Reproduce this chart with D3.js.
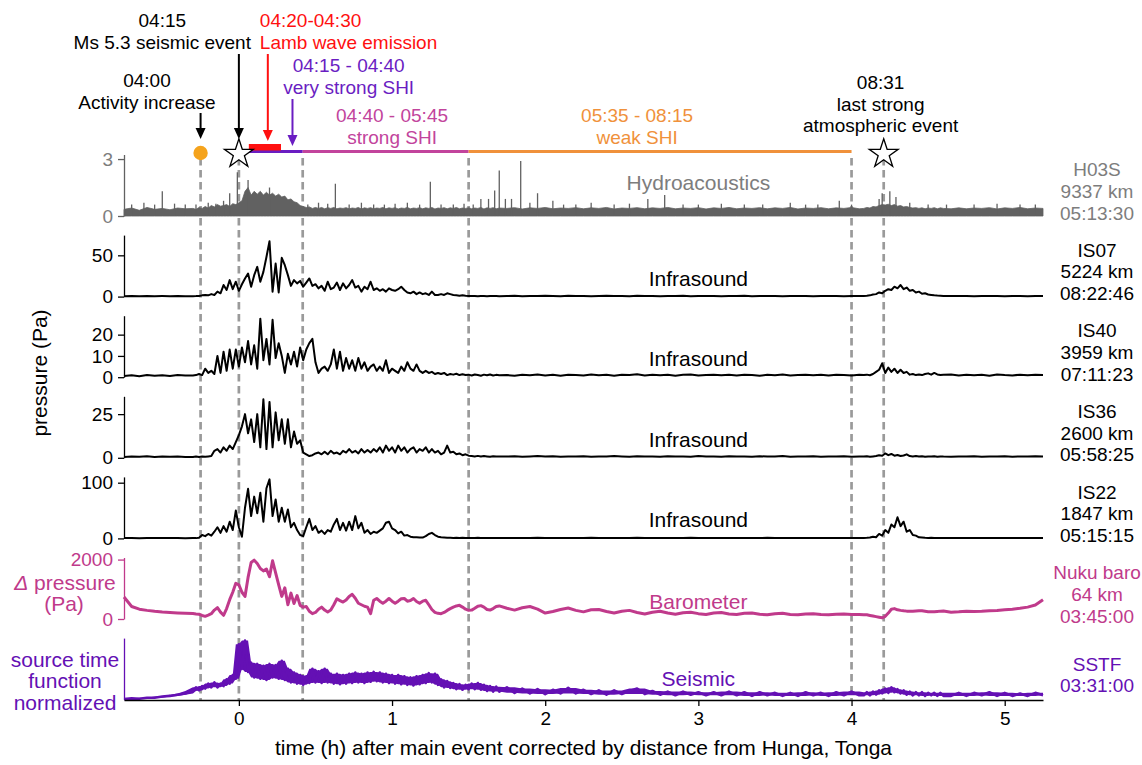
<!DOCTYPE html>
<html><head><meta charset="utf-8">
<script src="https://cdn.jsdelivr.net/npm/d3@7"></script>
<style>
body{margin:0;background:#fff}
text{font-family:"Liberation Sans",Arial,Helvetica,sans-serif}
</style>
</head><body>
<svg id="chart" width="1142" height="765"></svg>
<script>
// ---------------- DATA ----------------
const xDomain = [-0.75, 5.25];
const xTicks = [0, 1, 2, 3, 4, 5];
const xTitle = "time (h) after main event corrected by distance from Hunga, Tonga";

// sampling times (hours): coarse outside, fine during main activity and the 08:31 event
const tA = d3.range(9).map(i => +(-0.75 + 0.05 * i).toFixed(3));   // -0.75 .. -0.35
const tB = d3.range(101).map(i => +(-0.30 + 0.02 * i).toFixed(3)); // -0.30 .. 1.70
const tC = d3.range(47).map(i => +(1.75 + 0.05 * i).toFixed(3));   // 1.75 .. 4.05
const tD = d3.range(27).map(i => +(4.08 + 0.02 * i).toFixed(3));   // 4.08 .. 4.60
const tE = d3.range(13).map(i => +(4.65 + 0.05 * i).toFixed(3));   // 4.65 .. 5.25
const times = tA.concat(tB, tC, tD, tE);

const hydroValues = [
  0.35,0.42,0.3,0.45,0.35,0.4,0.33,0.42,0.38,
  0.4,0.35,0.45,0.4,0.5,0.42,0.55,0.48,0.6,0.52,
  0.55,0.6,0.5,0.65,0.6,0.7,0.8,1.3,1.5,1.1,
  1.3,1.15,1.3,1.1,1.25,1.1,1.2,1.05,1.15,1.0,
  1.05,0.85,0.9,0.75,0.7,0.55,0.5,0.45,0.48,0.4,
  0.45,0.4,0.45,0.38,0.44,0.4,0.45,0.38,0.42,0.4,
  0.44,0.38,0.42,0.4,0.45,0.37,0.43,0.4,0.44,0.38,
  0.42,0.4,0.45,0.38,0.43,0.4,0.44,0.37,0.42,0.4,
  0.45,0.38,0.42,0.4,0.44,0.38,0.43,0.4,0.45,0.37,
  0.42,0.4,0.44,0.38,0.43,0.4,0.45,0.38,0.42,0.4,
  0.44,0.38,0.42,0.4,0.45,0.37,0.43,0.4,0.44,0.38,
  0.42,
  0.4,0.44,0.37,0.43,0.4,0.45,0.38,0.42,0.4,0.44,
  0.38,0.43,0.4,0.45,0.37,0.42,0.4,0.44,0.38,0.43,
  0.4,0.45,0.38,0.42,0.4,0.44,0.37,0.43,0.4,0.45,
  0.38,0.42,0.4,0.44,0.38,0.43,0.4,0.45,0.37,0.42,
  0.4,0.44,0.38,0.43,0.4,0.45,0.38,
  0.4,0.45,0.42,0.5,0.48,0.55,0.6,0.58,0.62,0.55,
  0.6,0.52,0.55,0.48,0.5,0.45,0.42,0.44,0.4,0.43,
  0.38,0.42,0.4,0.44,0.38,0.43,0.4,
  0.38,0.43,0.38,0.42,0.4,0.44,0.37,0.43,0.4,0.45,0.38,0.42,0.4
];
const hydroSpikeTimes = [-0.7,-0.62,-0.55,-0.5,-0.42,-0.35,-0.28,-0.2,-0.15,-0.1,-0.06,-0.01,0.06,0.2,0.45,0.52,0.58,0.63,0.72,0.8,0.88,0.95,1.02,1.1,1.18,1.25,1.32,1.4,1.47,1.53,1.58,1.63,1.67,1.70,1.74,1.78,1.84,1.9,1.95,2.05,2.12,2.2,2.3,2.45,2.55,2.67,2.78,2.9,3.0,3.15,3.3,3.42,3.6,3.7,3.78,3.92,4.0,4.18,4.2,4.25,4.29,4.38,4.5,4.62,4.8,4.95,5.1,5.2];
const hydroSpikeValues = [0.6,0.7,0.6,1.3,0.65,0.6,0.6,0.7,0.65,0.8,1.2,2.3,1.9,1.5,0.6,0.7,0.65,1.7,0.6,0.7,0.6,0.6,0.65,0.7,0.6,1.8,0.6,0.6,0.65,0.6,0.9,0.9,1.35,2.4,0.9,0.9,2.9,0.7,1.2,0.8,0.6,0.6,0.7,0.6,0.65,0.9,1.1,0.6,0.6,0.65,0.6,0.6,0.7,0.6,0.6,0.8,0.6,0.9,1.2,1.3,1.0,0.7,0.6,0.6,0.6,0.65,0.6,0.6];

const is07Values = [
  0.5,0.6,0.4,0.7,0.5,0.6,0.5,0.7,0.5,
  0.5,0.6,0.8,1.5,2,1.5,3,2,6,4,
  14,8,20,9,18,7,15,22,28,12,
  26,36,18,30,48,67,6,40,5,47,
  38,26,13,20,16,19,12,17,22,13,
  15,10,13,7,18,9,11,17,8,16,
  10,14,20,11,13,6,12,9,18,8,
  10,7,9,6,10,8,7,9,12,8,
  5,4,6,3,5,3,4,2,6,2,
  2,3,2,4,3,2,1.5,1,1.5,1,
  0.8,0.6,0.8,0.5,0.7,0.6,0.5,0.8,0.6,0.7,
  0.5,
  0.6,0.9,0.5,0.8,0.6,1,0.7,0.5,0.9,0.6,
  0.8,0.5,0.7,1,0.6,0.8,0.5,0.9,0.6,0.7,
  0.5,0.8,0.6,0.9,0.5,0.7,0.6,0.8,0.5,0.7,
  0.6,0.9,0.5,0.7,0.6,0.8,0.5,0.7,0.6,0.8,
  0.5,0.7,0.6,0.8,0.5,0.7,0.6,
  0.8,1,1.5,2.5,3,5,4,7,9,8,
  12,10,14,9,11,7,8,5,6,3.5,
  4,2.5,2,1.5,1.2,1,0.8,
  0.8,0.6,0.7,0.5,0.8,0.6,0.7,0.5,0.6,0.8,0.5,0.7,0.6
];

const is40Values = [
  0.6,0.9,0.5,1,0.7,0.9,0.6,1,0.8,
  0.8,1,1.5,1,4,2,3,1.5,10,2,
  12,3,13,4,13,5,14,7,17,6,
  15,4,27.5,8,18,6,27,9,16,10,
  2,11,6,12,5,14,8,13,16,18,
  7,2,4,5,3,6,13,4,12,3,
  9,4,8,3,9,4,7,3,5,6,
  3,5,3,8,2,4,3,2,5,3,
  7,4,3,6,3,2,3,2,2.5,1.5,
  2,1.5,2,1,1.5,1.2,1.6,1,1.4,1,
  1.2,0.8,1.3,1,0.7,1.2,0.9,1.3,0.8,1.1,
  0.9,
  1,0.7,1.2,0.9,1.3,0.8,1.1,0.7,1.2,1,
  0.8,1.3,0.9,1.1,0.7,1.2,1,1.4,0.8,1.1,
  0.9,1.2,0.7,1.1,1.3,0.8,1,1.2,0.9,1.1,
  0.8,1.2,1,0.7,1.1,0.9,1.3,0.8,1,1.2,
  0.9,1.1,0.8,1.2,1,0.8,1.1,
  1,1.2,0.9,1.5,2.5,3.5,6.5,2,4.5,2.5,
  4,2,3.5,2,2.5,1.2,1.5,1,1.3,1,
  1.5,1.8,1.2,2,1.3,1,1.2,
  1.3,0.8,1.2,0.9,1.1,0.7,1.3,1,0.8,1.2,0.9,1.1,1
];

const is36Values = [
  0.5,0.8,0.6,0.9,0.5,0.7,0.6,0.8,0.5,
  0.5,0.8,0.5,0.7,0.6,0.8,1,4,5,3,
  6,4,7,5,9,13,18,25,14,22,
  9,25,6,33.5,5,32,6,26,10,22,
  8,22,6,15,8,10,3,2,1,1.5,
  2.5,3,2,3.5,2,4,2.5,3,2,4,
  3,5,3,4,2.5,5,3,4.5,3,5,
  3.5,6,3,7,4,6,3,7,4,6,
  3,5,6,3,5,4,6,3,5,3,
  4,2,3,7,3,3.5,2,2.5,1.5,2,
  1.2,1,0.8,1.1,0.7,1,0.8,0.6,0.9,0.7,
  0.8,
  0.7,0.9,0.6,0.8,1,0.7,0.9,0.6,0.8,0.7,
  0.9,0.6,0.8,0.7,1,0.8,0.6,0.9,0.7,0.8,
  0.6,0.9,0.7,0.8,0.6,1,0.7,0.8,0.6,0.9,
  0.7,0.8,0.6,0.9,0.7,0.8,1,0.6,0.8,0.7,
  0.9,0.6,0.8,0.7,0.9,0.6,0.8,
  0.7,0.9,0.6,0.8,1,1.5,1.2,2.5,1.5,2.2,
  1.2,1.6,1,1.3,2,1,0.8,1,0.7,0.9,
  0.6,0.8,0.7,0.9,0.6,0.8,0.7,
  0.6,0.8,0.7,0.9,0.6,0.8,0.7,0.9,0.6,0.8,0.7,0.9,0.7
];

const is22Values = [
  0.5,0.7,0.4,0.6,0.5,0.8,0.5,0.6,0.4,
  0.5,0.5,1,6,4,8,5,12,20,10,
  22,12,30,15,50,20,3,55,89,40,
  75,45,82,30,90,106,40,70,30,55,
  30,52,20,28,15,6,4,20,35,15,
  22,10,14,8,15,12,25,35,15,28,
  14,30,15,40,18,28,10,15,8,12,
  10,14,18,28,30,18,15,9,12,5,
  6,3,2,2,1.5,1.5,4,8,10,6,
  3,2,1.5,1,1.2,0.8,1,0.7,1,0.8,
  0.6,0.9,0.7,1,0.6,0.8,0.7,0.9,0.6,0.8,
  0.7,
  0.8,0.6,0.9,0.7,1,0.6,0.8,0.7,0.9,0.6,
  0.8,1,0.7,0.9,0.6,0.8,0.7,1,0.6,0.8,
  0.7,0.9,0.6,0.8,1,0.7,0.9,0.6,0.8,0.7,
  0.9,0.6,0.8,0.7,1,0.6,0.8,0.9,0.7,0.8,
  0.6,0.9,0.7,0.8,0.6,0.9,0.7,
  0.8,1,1.5,3,2,8,5,15,10,25,
  20,38,22,30,12,15,6,5,2,1.5,
  1,0.8,1,0.7,0.9,0.6,0.8,
  0.9,0.7,0.8,0.6,0.9,0.7,0.8,0.6,0.9,0.7,0.8,0.6,0.7
];

const baroValues = [
  740,420,330,290,260,236,220,205,195,
  185,170,160,120,90,130,180,300,380,230,
  125,350,650,900,1200,1150,900,760,1400,1900,
  1980,1870,1700,1620,1680,1420,1960,1550,1150,760,
  1050,480,870,520,790,460,400,420,260,180,
  220,330,400,300,236,300,480,680,620,570,
  640,760,830,700,530,480,430,400,180,630,
  690,600,530,600,690,600,530,600,680,690,
  600,620,690,590,530,600,630,480,320,224,
  190,180,220,290,348,400,440,460,400,330,
  293,300,360,430,450,400,320,300,350,420,
  440,
  360,300,380,420,330,200,250,320,370,290,
  240,310,320,250,200,260,290,220,170,230,
  260,200,160,210,230,180,150,200,220,170,
  150,190,200,160,140,180,190,150,140,170,
  180,150,140,160,170,150,150,
  140,140,120,100,80,60,40,90,200,330,
  350,310,290,275,265,260,260,270,280,275,
  260,245,240,245,255,265,270,
  230,240,260,250,260,280,290,310,330,360,400,470,650
];

const seismicValues = [
  0.01,0.02,0.015,0.03,0.03,0.05,0.06,0.08,0.1,
  0.14,0.2,0.15,0.22,0.18,0.26,0.2,0.28,0.2,0.26,
  0.22,0.33,0.26,0.4,0.34,0.9,0.5,0.96,0.45,0.6,
  0.36,0.58,0.34,0.55,0.32,0.58,0.36,0.56,0.34,0.63,
  0.32,0.5,0.28,0.44,0.26,0.4,0.24,0.38,0.27,0.5,
  0.28,0.46,0.27,0.5,0.28,0.42,0.26,0.42,0.25,0.4,
  0.26,0.42,0.27,0.44,0.28,0.42,0.27,0.44,0.29,0.45,
  0.3,0.44,0.28,0.42,0.27,0.4,0.26,0.4,0.25,0.38,
  0.24,0.36,0.23,0.38,0.25,0.4,0.27,0.43,0.28,0.42,
  0.24,0.33,0.2,0.3,0.19,0.27,0.17,0.25,0.16,0.24,
  0.17,0.26,0.17,0.27,0.16,0.24,0.14,0.22,0.13,0.21,
  0.13,
  0.2,0.11,0.18,0.1,0.17,0.09,0.16,0.1,0.19,0.1,
  0.16,0.09,0.15,0.08,0.15,0.09,0.14,0.18,0.09,0.14,
  0.08,0.13,0.07,0.13,0.08,0.12,0.07,0.12,0.07,0.13,
  0.07,0.12,0.06,0.12,0.07,0.11,0.06,0.11,0.06,0.12,
  0.07,0.11,0.06,0.12,0.07,0.13,0.07,
  0.07,0.12,0.07,0.13,0.08,0.15,0.1,0.18,0.11,0.2,
  0.12,0.17,0.1,0.15,0.08,0.13,0.07,0.12,0.07,0.12,
  0.06,0.11,0.07,0.11,0.06,0.11,0.06,
  0.06,0.11,0.06,0.11,0.07,0.12,0.06,0.11,0.06,0.1,0.06,0.11,0.07
];

const stationNames = ["H03S","IS07","IS40","IS36","IS22","Nuku baro","SSTF"];
const stationInfo = [["9337 km","05:13:30"],["5224 km","08:22:46"],["3959 km","07:11:23"],["2600 km","05:58:25"],["1847 km","05:15:15"],["64 km","03:45:00"],["03:31:00"]];
const sensorTypes = ["Hydroacoustics","Infrasound","Infrasound","Infrasound","Infrasound","Barometer","Seismic"];
const yMax = [3.24, 74.5, 28.9, 35.2, 110.4, 2070, 1.0];
const yTickValues = [[0,3],[0,50],[0,10,20],[0,25],[0,100],[0,2000],[]];

const eventTimes = [-0.25, 0, 0.4167, 1.5, 4.0, 4.21];   // dashed markers
const phaseStart = [0, 0.4167, 1.5];
const phaseEnd = [0.4167, 1.5, 4.0];
const lambStart = 0.065, lambEnd = 0.275;
const dotTime = -0.25;
const starTimes = [0, 4.21];

const annTimes = [-0.6, -0.5, 0.137, 0.717, 1.0, 2.6, 4.19];
const annLines = [["04:00","Activity increase"],["04:15","Ms 5.3 seismic event"],["04:20-04:30","Lamb wave emission"],["04:15 - 04:40","very strong SHI"],["04:40 - 05:45","strong SHI"],["05:35 - 08:15","weak SHI"],["08:31","last strong","atmospheric event"]];
const arrowTimes = [-0.25, 0, 0.189, 0.35];

// ---------------- STYLE / LAYOUT ----------------
const C = {hydro:"#616161", hydroText:"#7d7d7d", baro:"#c03a8b", seis:"#6410b4", shiPurple:"#6a1dc2", shiMag:"#c2449c", orange:"#f0913b", red:"#ff1010", dot:"#f5a31c", dash:"#9a9a9a"};
const seriesColors = [C.hydro,"#000","#000","#000","#000",C.baro,C.seis];
const axisColors = [C.hydro,"#000","#000","#000","#000",C.baro,C.seis];
const rightTextColors = [C.hydroText,"#000","#000","#000","#000",C.baro,C.seis];
const labelColors = [C.hydroText,"#000","#000","#000","#000",C.baro,C.seis];
const labelOffsets = [33,18,18,18,18,17,21];
const annColors = ["#000","#000",C.red,C.shiPurple,C.shiMag,C.orange,"#000"];
const annAnchor = ["middle","middle","start","middle","middle","middle","middle"];
const annFirstY = [80,20,20,65,115,115,82];
const arrowY = [[113,139],[54,139],[54,141],[99,146]];
const arrowColors = ["#000","#000",C.red,C.shiPurple];
const phaseColors = [C.shiPurple, C.shiMag, C.orange];

const FS = 19;
const svg = d3.select("#chart");
const x = d3.scaleLinear().domain(xDomain).range([124, 1043]);
const top0 = 154.5, step = 80.6, pH = 61.5;

// dashed vertical lines
svg.append("g").selectAll("line").data(eventTimes).join("line")
  .attr("x1", d => x(d)).attr("x2", d => x(d))
  .attr("y1", 158).attr("y2", 700)
  .attr("stroke", C.dash).attr("stroke-width", 2.7).attr("stroke-dasharray", "7.5,4.5");

const series = [hydroValues, is07Values, is40Values, is36Values, is22Values, baroValues, seismicValues];

series.forEach((vals, i) => {
  const top = top0 + step * i, bottom = top + pH;
  const y = d3.scaleLinear().domain([0, yMax[i]]).range([bottom, top]);
  const g = svg.append("g");
  const pts = d3.zip(times, vals);
  if (i === 0) {
    g.append("path").datum(pts)
      .attr("d", d3.area().x(d => x(d[0])).y0(y(0)).y1(d => y(d[1])))
      .attr("fill", C.hydro).attr("stroke", C.hydro).attr("stroke-width", 0.8);
    g.selectAll("line.sp").data(d3.zip(hydroSpikeTimes, hydroSpikeValues)).join("line")
      .attr("x1", d => x(d[0])).attr("x2", d => x(d[0]))
      .attr("y1", y(0)).attr("y2", d => y(d[1]))
      .attr("stroke", C.hydro).attr("stroke-width", 1.3);
  } else {
    if (i === 6) {
      // noisy band: local min/max envelope of the seismic trace
      const band = pts.map((p, k) => {
        const w = vals.slice(Math.max(0, k - 1), k + 2);
        return [p[0], d3.min(w), d3.max(w)];
      });
      g.append("path").datum(band)
        .attr("d", d3.area().x(d => x(d[0])).y0(d => y(d[1])).y1(d => y(d[2])))
        .attr("fill", C.seis);
    }
    const lw = i === 5 ? 3 : (i === 6 ? 2.6 : 2);
    g.append("path").datum(pts)
      .attr("d", d3.line().x(d => x(d[0])).y(d => y(d[1])))
      .attr("fill", "none").attr("stroke", seriesColors[i])
      .attr("stroke-width", lw).attr("stroke-linejoin", "round");
  }
  // y axis
  const ax = d3.axisLeft(y).tickValues(yTickValues[i]).tickSize(6).tickSizeOuter(0).tickPadding(5).tickFormat(d3.format("d"));
  const ag = svg.append("g").attr("transform", "translate(124,0)").call(ax);
  ag.select(".domain").attr("stroke", axisColors[i]).attr("stroke-width", 1.3);
  ag.selectAll(".tick line").attr("stroke", axisColors[i]).attr("stroke-width", 1.3);
  ag.selectAll(".tick text").attr("fill", labelColors[i]).attr("font-size", FS)
    .attr("font-family", '"Liberation Sans",Arial,sans-serif');
  // in-panel label
  svg.append("text").attr("x", x(3)).attr("y", bottom - labelOffsets[i] + 7)
    .attr("text-anchor", "middle").attr("font-size", 21).attr("fill", labelColors[i])
    .text(sensorTypes[i]);
  // right labels
  const lines = [stationNames[i]].concat(stationInfo[i]);
  const cy = bottom - 25 - (lines.length - 1) * 21.7 / 2;
  lines.forEach((t, k) => {
    svg.append("text").attr("x", 1097).attr("y", cy + k * 21.7 + 6.8)
      .attr("text-anchor", "middle").attr("font-size", FS).attr("fill", rightTextColors[i]).text(t);
  });
});

// x axis
const xa = svg.append("g").attr("transform", "translate(0,700)")
  .call(d3.axisBottom(x).tickValues(xTicks).tickSize(6).tickSizeOuter(0).tickPadding(6).tickFormat(d3.format("d")));
xa.select(".domain").attr("stroke", "#000").attr("stroke-width", 1.5);
xa.selectAll(".tick line").attr("stroke", "#000").attr("stroke-width", 1.3);
xa.selectAll(".tick text").attr("font-size", FS).attr("fill", "#000").attr("font-family", '"Liberation Sans",Arial,sans-serif');
svg.append("text").attr("x", (124 + 1043) / 2).attr("y", 755).attr("text-anchor", "middle")
  .attr("font-size", 21).text(xTitle);

// left labels
svg.append("text").attr("transform", "translate(47,373) rotate(-90)").attr("text-anchor", "middle")
  .attr("font-size", 21).text("pressure (Pa)");
const baroLab = svg.append("text").attr("x", 65).attr("y", 590).attr("text-anchor", "middle")
  .attr("font-size", 21).attr("fill", C.baro);
baroLab.append("tspan").attr("font-style", "italic").text("Δ");
baroLab.append("tspan").text(" pressure");
svg.append("text").attr("x", 64).attr("y", 611).attr("text-anchor", "middle")
  .attr("font-size", 21).attr("fill", C.baro).text("(Pa)");
["source time", "function", "normalized"].forEach((t, k) => {
  svg.append("text").attr("x", 65).attr("y", 667 + k * 21.3).attr("text-anchor", "middle")
    .attr("font-size", 21).attr("fill", C.seis).text(t);
});

// SHI phase bars
svg.append("g").selectAll("line").data(d3.zip(phaseStart, phaseEnd)).join("line")
  .attr("x1", d => x(d[0])).attr("x2", d => x(d[1]))
  .attr("y1", 151.5).attr("y2", 151.5)
  .attr("stroke", (d, i) => phaseColors[i]).attr("stroke-width", 3.2);
svg.append("rect").attr("x", x(lambStart)).attr("width", x(lambEnd) - x(lambStart))
  .attr("y", 144).attr("height", 6.5).attr("fill", C.red);

// markers
svg.append("circle").attr("cx", x(dotTime)).attr("cy", 153).attr("r", 7.2).attr("fill", C.dot);
const star = d3.symbol().type(d3.symbolStar).size(260);
svg.append("g").selectAll("path").data(starTimes).join("path")
  .attr("d", star).attr("transform", d => `translate(${x(d)},154)`)
  .attr("fill", "#fff").attr("stroke", "#000").attr("stroke-width", 1.3);

// arrows
arrowTimes.forEach((t, i) => {
  const ax0 = x(t), [y0, y1] = arrowY[i];
  svg.append("line").attr("x1", ax0).attr("x2", ax0).attr("y1", y0).attr("y2", y1 - 8)
    .attr("stroke", arrowColors[i]).attr("stroke-width", 2);
  svg.append("path").attr("d", `M${ax0 - 5},${y1 - 11}L${ax0 + 5},${y1 - 11}L${ax0},${y1}Z`)
    .attr("fill", arrowColors[i]);
});

// annotation text
annTimes.forEach((t, i) => {
  annLines[i].forEach((s, k) => {
    svg.append("text").attr("x", x(t)).attr("y", annFirstY[i] + k * 21.7 + 6.8)
      .attr("text-anchor", annAnchor[i]).attr("font-size", FS).attr("fill", annColors[i]).text(s);
  });
});
</script>
</body></html>
